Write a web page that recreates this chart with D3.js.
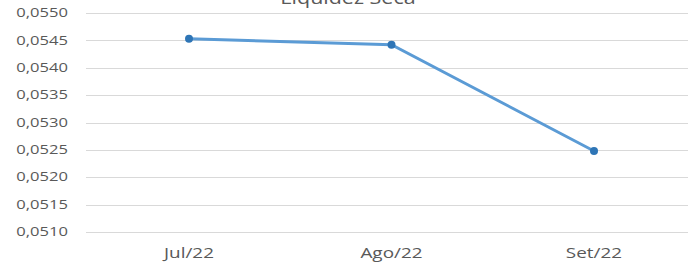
<!DOCTYPE html>
<html>
<head>
<meta charset="utf-8">
<script src="https://cdn.jsdelivr.net/npm/d3@7"></script>
<style>
  body { margin: 0; background: #fff; }
  text { font-family: "Open Sans", sans-serif; fill: #595959; }
</style>
</head>
<body>
<div id="chart"></div>
<script>
// chart data
var months = ["Jul/22", "Ago/22", "Set/22"];
var liquidez = [0.05453, 0.05442, 0.05248];
var yTicks = [0.0510, 0.0515, 0.0520, 0.0525, 0.0530, 0.0535, 0.0540, 0.0545, 0.0550];

// svg size
var svgWidth = 688;
var svgHeight = 263;

var svg = d3.select("#chart")
    .append("svg")
    .attr("width", svgWidth)
    .attr("height", svgHeight);

// x scale - categories
var xScale = d3.scalePoint()
    .domain(months)
    .range([189, 594]);

// y scale
var yScale = d3.scaleLinear()
    .domain([0.0510, 0.0550])
    .range([232, 13]);

var fmt = function(d) { return d3.format(".4f")(d).replace(".", ","); };

// the original text looks stretched sideways, widen glyphs a bit
function stretch(sel, factor) {
    sel.each(function() {
        var w = this.getComputedTextLength();
        d3.select(this)
            .attr("textLength", w * factor)
            .attr("lengthAdjust", "spacingAndGlyphs");
    });
}

// gridlines
svg.append("g")
    .selectAll("line")
    .data(yTicks)
    .enter()
    .append("line")
    .attr("x1", 86)
    .attr("x2", 694)
    .attr("y1", d => Math.round(yScale(d)) + 0.5)
    .attr("y2", d => Math.round(yScale(d)) + 0.5)
    .attr("stroke", "#d9d9d9")
    .attr("stroke-width", 1);

// y labels
var yLabels = svg.append("g")
    .selectAll("text")
    .data(yTicks)
    .enter()
    .append("text")
    .attr("x", 68)
    .attr("y", d => yScale(d))
    .attr("dy", "0.35em")
    .attr("text-anchor", "end")
    .style("font-size", "12px")
    .text(fmt);
stretch(yLabels, 1.38);

// x labels
var xLabels = svg.append("g")
    .selectAll("text")
    .data(months)
    .enter()
    .append("text")
    .attr("x", d => xScale(d))
    .attr("y", 253)
    .attr("dy", "0.35em")
    .attr("text-anchor", "middle")
    .style("font-size", "14px")
    .text(d => d);
stretch(xLabels, 1.35);

// line
var line = d3.line()
    .x((d, i) => xScale(months[i]))
    .y(d => yScale(d));

svg.append("path")
    .datum(liquidez)
    .attr("fill", "none")
    .attr("stroke", "#5b9bd5")
    .attr("stroke-width", 3)
    .attr("stroke-linecap", "round")
    .attr("d", line);

// markers
svg.append("g")
    .selectAll("circle")
    .data(liquidez)
    .enter()
    .append("circle")
    .attr("cx", (d, i) => xScale(months[i]))
    .attr("cy", d => yScale(d))
    .attr("r", 4)
    .attr("fill", "#2e75b6");

// title, cut at top like the original
var title = svg.append("text")
    .attr("x", 348)
    .attr("y", 4)
    .attr("text-anchor", "middle")
    .style("font-size", "19px")
    .text("Liquidez Seca");
stretch(title, 1.13);
</script>
</body>
</html>
